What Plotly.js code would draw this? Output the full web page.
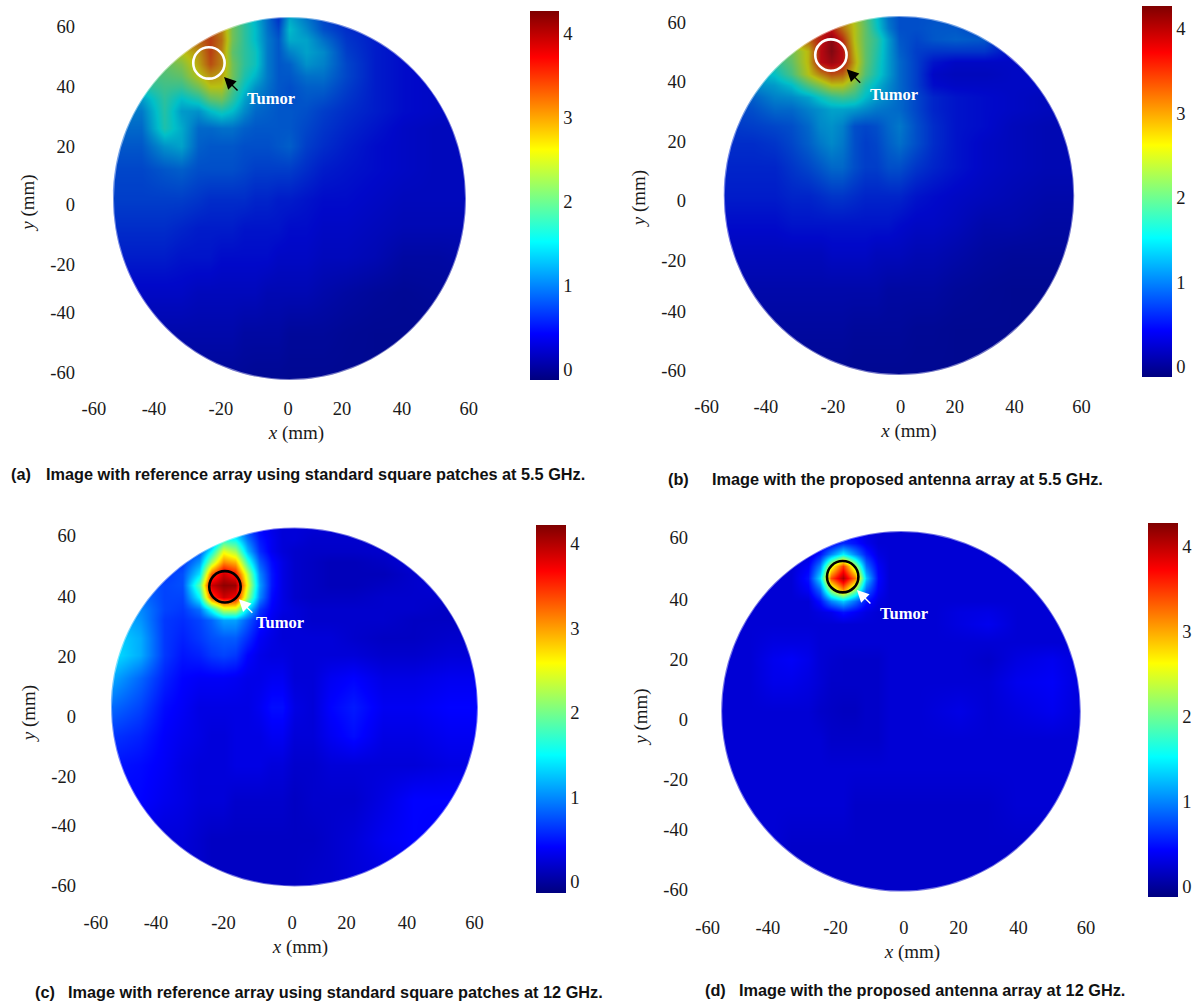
<!DOCTYPE html>
<html><head><meta charset="utf-8">
<script src="https://cdn.plot.ly/plotly-3.0.1.min.js"></script>
<style>html,body{margin:0;padding:0;background:#fff}</style></head>
<body><div id="chart" style="width:1203px;height:1002px"></div>
<script>
const gridX = [-64,-52,-44,-38,-32,-28,-24,-20,-16,-12,-8,-4,0,6,12,20,30,40,52,64];
const gridY = [64,58,54,50,46,42,38,34,30,24,18,10,0,-10,-20,-32,-46,-64];

const zA = [
[3.2,3.2,3.2,3.2,3.2,3.2,3,2.2,1.8,1.4,1,.6,1.3,1,.75,.6,.5,.4,.4,.4],
[3.2,3.2,3.2,3.2,3.2,3.3,3,2.2,1.8,1.5,1.05,.8,1.5,1.2,.85,.65,.55,.45,.4,.4],
[3,3,3,3,3.2,3.4,3.1,2.2,1.8,1.5,1.1,.9,1.4,1.35,1.05,.7,.55,.45,.4,.4],
[2.4,2.4,2.4,2.6,2.9,3.4,3,2.1,1.8,1.6,1.1,.9,1.15,1.35,1.2,.75,.55,.45,.4,.4],
[2,2,2.1,2.3,2.8,3.3,3,2.2,1.8,1.6,1.1,.9,.95,1.25,1.15,.8,.55,.45,.4,.4],
[1.9,1.9,2,2.1,2.6,2.9,2.8,2.2,1.7,1.45,1.1,.9,.9,1.05,1.05,.8,.55,.45,.4,.4],
[1.7,1.7,1.9,1.85,2.2,2.6,2.6,2,1.55,1.25,1.05,.9,.85,.95,.95,.75,.55,.45,.4,.4],
[1.3,1.3,1.8,1.5,1.7,2.1,2.2,1.8,1.35,1.1,1,.9,.85,.9,.85,.7,.55,.45,.4,.4],
[1.1,1.1,1.75,1.3,1.25,1.5,1.65,1.5,1.2,1,.95,.9,.9,.85,.75,.65,.55,.45,.4,.4],
[1,1,1.7,1.4,1,1,1.05,1.05,.95,.9,.9,.9,.9,.8,.7,.6,.5,.4,.35,.35],
[.9,.9,1.25,1.35,.95,.9,.9,.9,.85,.85,.85,.9,.95,.75,.65,.55,.45,.4,.35,.35],
[.8,.8,.9,.95,.85,.85,.85,.85,.8,.75,.75,.75,.75,.65,.55,.5,.45,.4,.35,.35],
[.75,.75,.75,.75,.7,.65,.65,.65,.65,.6,.6,.55,.55,.5,.45,.45,.4,.35,.35,.35],
[.65,.65,.65,.6,.55,.55,.55,.55,.5,.5,.5,.5,.45,.45,.4,.4,.35,.3,.3,.3],
[.55,.55,.55,.5,.5,.5,.45,.45,.45,.45,.45,.4,.4,.4,.35,.35,.3,.2,.2,.25],
[.4,.4,.4,.4,.35,.35,.35,.35,.35,.35,.3,.3,.3,.3,.25,.2,.15,.12,.15,.15],
[.25,.25,.25,.25,.25,.25,.25,.25,.2,.2,.2,.2,.15,.15,.15,.12,.1,.1,.1,.1],
[.12,.12,.12,.12,.12,.12,.12,.12,.12,.1,.1,.1,.1,.1,.1,.1,.1,.1,.1,.1]];

const zB = [
[3.4,3.4,3.4,3.4,3.4,3.5,3.5,2.9,2.5,2,1.5,1,.85,.85,.85,.85,.7,.5,.4,.4],
[3.4,3.4,3.4,3.4,3.4,3.5,3.6,3.1,2.6,2.1,1.6,1.1,.85,.85,.9,.9,.75,.5,.4,.4],
[3,3,3,3,3.2,3.6,4,3.5,2.6,2.1,1.8,1.3,.9,.8,.9,.95,.9,.5,.4,.4],
[2,2,2,2.2,2.7,3.7,4.05,3.7,2.7,2.1,1.75,1.3,.95,.75,.7,.7,.7,.45,.4,.4],
[1.6,1.6,1.8,2.1,2.7,3.7,3.9,3.7,2.8,2.1,1.7,1.3,1,.75,.5,.4,.4,.4,.4,.4],
[1.4,1.4,1.55,1.95,2.6,3,3.3,3.2,2.6,2,1.65,1.3,1,.75,.4,.35,.35,.4,.4,.4],
[1.2,1.2,1.3,1.5,2,2.3,2.6,2.6,2.2,1.7,1.45,1.2,1,.75,.45,.4,.4,.4,.4,.4],
[.85,.95,1.15,1.2,1.35,1.6,1.8,1.9,1.8,1.5,1.3,1.15,1,.8,.6,.5,.45,.4,.35,.35],
[.75,.85,1,1,1.15,1.25,1.35,1.35,1.3,1.2,1.1,1.05,1,.8,.6,.5,.45,.4,.35,.35],
[.7,.75,.8,.85,1,1.2,1.25,1.15,.85,.8,.85,1,1.1,.85,.65,.5,.45,.35,.3,.3],
[.65,.65,.7,.8,.95,1.1,1.2,1.1,.85,.75,.8,.95,1.05,.85,.65,.5,.4,.35,.3,.3],
[.6,.6,.6,.7,.8,.9,1,1,.85,.75,.75,.85,.85,.7,.6,.5,.4,.35,.3,.3],
[.55,.55,.55,.6,.6,.65,.7,.7,.65,.6,.6,.6,.6,.5,.45,.4,.35,.3,.25,.25],
[.45,.45,.45,.5,.5,.5,.5,.5,.5,.5,.5,.5,.45,.4,.4,.35,.25,.25,.2,.2],
[.35,.35,.35,.35,.35,.35,.4,.4,.4,.4,.35,.35,.35,.3,.3,.25,.18,.15,.15,.15],
[.25,.25,.25,.25,.25,.25,.25,.25,.25,.25,.25,.2,.2,.2,.2,.15,.12,.1,.1,.1],
[.18,.18,.18,.18,.18,.18,.18,.18,.15,.15,.15,.15,.15,.12,.12,.1,.1,.1,.1,.1],
[.1,.1,.1,.1,.1,.1,.1,.1,.1,.1,.1,.1,.1,.1,.1,.1,.1,.1,.1,.1]];

const zC = [
[.45,.45,.45,.45,.45,.55,1,1,.6,.4,.3,.25,.25,.25,.25,.25,.25,.25,.25,.25],
[.5,.5,.5,.5,.5,.8,1.6,1.5,.9,.5,.35,.25,.25,.2,.2,.2,.2,.25,.25,.25],
[.55,.55,.55,.6,.75,1.5,2.5,2.2,1.2,.6,.35,.25,.2,.18,.18,.18,.2,.25,.25,.25],
[.65,.65,.6,.65,1.05,2.2,3.1,2.9,1.7,.8,.45,.3,.2,.16,.12,.12,.16,.25,.25,.25],
[.75,.75,.65,.75,1.4,3.3,3.9,3.6,2.3,1,.5,.3,.2,.16,.12,.12,.12,.2,.25,.25],
[.85,.85,.7,.75,1.9,3.9,4.15,4.1,2.5,1.1,.5,.3,.2,.16,.12,.12,.16,.2,.25,.25],
[.95,.9,.7,.7,1.5,3.4,3.9,3.7,2.2,1,.45,.3,.2,.16,.16,.16,.2,.2,.2,.2],
[1.1,1,.7,.65,.9,1.6,2.4,2.4,1.4,.65,.4,.3,.25,.2,.2,.2,.2,.2,.16,.16],
[1.3,1.05,.65,.6,.7,.85,1.1,1.1,.8,.5,.35,.25,.25,.2,.2,.2,.2,.16,.16,.16],
[1.4,1.15,.65,.55,.65,.75,.8,.8,.6,.38,.3,.25,.25,.25,.25,.2,.16,.16,.2,.2],
[1.45,1.15,.65,.5,.55,.65,.7,.65,.42,.32,.28,.28,.25,.25,.25,.25,.2,.2,.25,.25],
[1.2,.85,.55,.42,.38,.38,.38,.36,.32,.32,.36,.36,.25,.25,.36,.42,.3,.3,.35,.35],
[.9,.7,.45,.38,.3,.3,.3,.3,.3,.36,.46,.46,.3,.25,.42,.52,.36,.36,.42,.42],
[.65,.55,.4,.34,.3,.26,.26,.3,.3,.3,.36,.36,.25,.25,.36,.46,.3,.3,.36,.36],
[.5,.45,.38,.3,.26,.26,.26,.3,.3,.3,.26,.26,.2,.2,.25,.25,.25,.25,.3,.3],
[.42,.42,.34,.3,.25,.25,.25,.2,.2,.2,.2,.2,.16,.2,.2,.2,.3,.42,.42,.42],
[.3,.3,.25,.25,.2,.16,.16,.16,.16,.16,.16,.16,.16,.16,.2,.25,.36,.42,.36,.36],
[.25,.25,.25,.2,.2,.16,.16,.16,.16,.16,.16,.16,.16,.2,.2,.25,.25,.3,.3,.3]];

const zD = [
[.25,.25,.25,.25,.25,.25,.25,.3,.3,.25,.25,.25,.25,.25,.25,.25,.25,.25,.25,.25],
[.25,.25,.25,.25,.25,.3,.4,.6,.5,.35,.25,.25,.25,.25,.25,.25,.25,.25,.25,.25],
[.25,.25,.25,.25,.25,.5,1,1.5,1,.55,.3,.25,.25,.25,.25,.25,.25,.25,.25,.25],
[.25,.25,.25,.25,.4,1,2.5,3.5,2.3,.9,.4,.25,.25,.25,.25,.25,.25,.25,.25,.25],
[.25,.25,.25,.25,.5,1.4,3.4,4.1,3.2,1.3,.45,.25,.25,.25,.25,.25,.25,.25,.25,.25],
[.25,.25,.25,.25,.4,.9,2.3,3.2,2.2,.9,.4,.25,.25,.25,.25,.25,.25,.25,.25,.25],
[.25,.25,.25,.25,.25,.5,1,1.3,.9,.5,.3,.25,.25,.25,.25,.25,.25,.25,.25,.25],
[.25,.25,.25,.25,.25,.3,.35,.5,.4,.3,.25,.25,.25,.25,.25,.3,.32,.25,.25,.25],
[.25,.25,.25,.25,.25,.25,.25,.25,.25,.25,.25,.25,.25,.25,.25,.3,.36,.25,.25,.25],
[.25,.25,.3,.3,.3,.25,.25,.25,.25,.25,.25,.25,.25,.25,.25,.25,.25,.25,.25,.25],
[.25,.25,.36,.4,.34,.25,.22,.2,.2,.2,.2,.25,.25,.25,.25,.25,.2,.3,.36,.25],
[.25,.25,.34,.34,.3,.25,.2,.2,.2,.2,.2,.25,.25,.25,.25,.25,.25,.36,.4,.25],
[.25,.25,.25,.25,.25,.2,.18,.16,.16,.2,.2,.25,.25,.25,.28,.32,.25,.3,.36,.25],
[.25,.25,.25,.25,.25,.25,.2,.2,.2,.2,.2,.25,.25,.25,.25,.25,.25,.25,.25,.25],
[.25,.25,.25,.25,.25,.25,.25,.25,.25,.25,.25,.25,.25,.25,.25,.25,.25,.25,.25,.25],
[.25,.25,.25,.25,.25,.25,.25,.25,.2,.2,.2,.2,.2,.2,.2,.2,.2,.25,.25,.25],
[.25,.25,.25,.2,.2,.2,.2,.2,.2,.2,.2,.2,.2,.2,.2,.2,.2,.2,.2,.2],
[.25,.25,.25,.2,.2,.2,.2,.2,.2,.2,.2,.2,.2,.2,.2,.2,.2,.2,.2,.2]];

const tickText = ['-60','-40','-20','0','20','40','60'];
const yTickText = ['60','40','20','0','-20','-40','-60'];
const cbTicks = [0,1,2,3,4];

const xTicksA = [-68.7,-47.6,-24.1,-0.5,18.4,39.5,63];
const yTicksA = [58.9,38.4,17.9,-2.2,-22.7,-39.1,-59.6];
const xTicksB = [-68.1,-47.1,-23.4,0.6,19.7,40.9,64.6];
const yTicksB = [59.9,39.2,18.5,-1.9,-22.6,-39.9,-60.3];
const xTicksC = [-67.1,-46.8,-24,-0.8,17.6,38,60.8];
const yTicksC = [59.1,38.1,17.4,-3.4,-24.1,-41,-61.7];
const xTicksD = [-66.7,-45.9,-22.6,1,19.8,40.5,63.8];
const yTicksD = [59.7,38.5,17.9,-2.9,-23.4,-40.6,-61.2];

const jet = [[0,'#00007F'],[0.125,'#0000FF'],[0.375,'#00FFFF'],[0.625,'#FFFF00'],[0.875,'#FF0000'],[1,'#7F0000']];
const W = 1203, H = 1002, R = 62, serif = 'Liberation Serif', sans = 'Liberation Sans';

const panels = [
 {z:zA,xt:xTicksA,yt:yTicksA,cx:289.5,cy:198.5,rx:176.5,ry:181.5,L:76,Rt:517,T:9,B:395,shade:0.28,
  cb:{l:530,w:29,t:11,b:380},zr:[-0.12,4.27],ring:'#fff',c:[-28.3,46.3],arrow:'#000',tip:[-23,41.5],txt:[-6.5,34]},
 {z:zB,xt:xTicksB,yt:yTicksB,cx:899,cy:195.5,rx:175.2,ry:179.5,L:687,Rt:1131,T:2,B:393,shade:0.28,
  cb:{l:1142,w:30,t:6,b:377},zr:[-0.12,4.27],ring:'#fff',c:[-24.1,48.5],arrow:'#000',tip:[-18.5,43.6],txt:[-1.8,35]},
 {z:zC,xt:xTicksC,yt:yTicksC,cx:294.5,cy:707,rx:183.5,ry:179.5,L:77,Rt:524,T:516,B:909,shade:0,
  cb:{l:536,w:30,t:525,b:893},zr:[-0.13,4.22],ring:'#000',c:[-23.5,41.5],arrow:'#fff',tip:[-18.8,37.2],txt:[-4.9,29.3]},
 {z:zD,xt:xTicksD,yt:yTicksD,cx:901,cy:711.3,rx:179.8,ry:180.3,L:689,Rt:1136,T:518,B:914,shade:0,
  cb:{l:1148,w:30,t:523,b:897},zr:[-0.12,4.28],ring:'#000',c:[-20.1,46.3],arrow:'#fff',tip:[-15.2,41.7],txt:[1,33.8]}
];

const captions = [
 ['(a)',10,474],['Image with reference array using standard square patches at 5.5 GHz.',45,474],
 ['(b)',667,479],['Image with the proposed antenna array at 5.5 GHz.',711,479],
 ['(c)',34,992],['Image with reference array using standard square patches at 12 GHz.',67,992],
 ['(d)',704,990],['Image with the proposed antenna array at 12 GHz.',738,990]
];

const k = 0.5523 * R;
const maskPath = `M-200,-200 H200 V200 H-200 Z M${-R},0 C${-R},${k} ${-k},${R} 0,${R} C${k},${R} ${R},${k} ${R},0 C${R},${-k} ${k},${-R} 0,${-R} C${-k},${-R} ${-R},${-k} ${-R},0 Z`;

const traces = [], shapes = [], annotations = [];
const layout = {width:W,height:H,margin:{l:0,r:0,t:0,b:0},paper_bgcolor:'#fff',plot_bgcolor:'#fff',showlegend:false,font:{family:serif,color:'#1a1a1a'}};

panels.forEach((p,i)=>{
  const s = i===0?'':String(i+1), xn='x'+s, yn='y'+s;
  const sx = p.rx/R, sy = p.ry/R;
  traces.push({type:'heatmap',x:gridX,y:gridY,z:p.z,xaxis:xn,yaxis:yn,colorscale:jet,zmin:p.zr[0],zmax:p.zr[1],zsmooth:'best',hoverinfo:'skip',
    colorbar:{x:p.cb.l/W,xanchor:'left',xpad:0,ypad:0,y:1-p.cb.b/H,yanchor:'bottom',lenmode:'pixels',len:p.cb.b-p.cb.t,thicknessmode:'pixels',thickness:p.cb.w,
      outlinewidth:0,ticks:'',tickmode:'array',tickvals:cbTicks,ticktext:cbTicks.map(String),tickfont:{family:serif,size:18.5,color:'#1a1a1a'}}});
  layout['xaxis'+s] = {domain:[p.L/W,p.Rt/W],anchor:yn,range:[(p.L-p.cx)/sx,(p.Rt-p.cx)/sx],showgrid:false,zeroline:false,showline:false,ticks:'',
    tickmode:'array',tickvals:p.xt,ticktext:tickText,tickfont:{family:serif,size:18.5,color:'#1a1a1a'},
    title:{text:'<i>x</i> (mm)',font:{family:serif,size:19,color:'#1a1a1a'},standoff:8}};
  layout['yaxis'+s] = {domain:[1-p.B/H,1-p.T/H],anchor:xn,range:[(p.cy-p.B)/sy,(p.cy-p.T)/sy],showgrid:false,zeroline:false,showline:false,ticks:'',
    tickmode:'array',tickvals:p.yt,ticktext:yTickText,tickfont:{family:serif,size:18.5,color:'#1a1a1a'},
    title:{text:'<i>y</i> (mm)',font:{family:serif,size:19,color:'#1a1a1a'},standoff:10}};
  shapes.push({type:'path',xref:xn,yref:yn,path:maskPath,fillcolor:'#fff',fillrule:'evenodd',line:{width:0},layer:'above'});
  shapes.push({type:'circle',xref:xn,yref:yn,x0:-R,x1:R,y0:-R,y1:R,fillcolor:`rgba(0,30,60,${p.shade})`,line:{color:'rgba(255,255,255,0.45)',width:2},layer:'above'});
  shapes.push({type:'circle',xref:xn,yref:yn,x0:p.c[0]-15.7/sx,x1:p.c[0]+15.7/sx,y0:p.c[1]-15.7/sy,y1:p.c[1]+15.7/sy,fillcolor:'rgba(0,0,0,0)',line:{color:p.ring,width:2.6},layer:'above'});
  annotations.push({xref:xn,yref:yn,x:p.tip[0],y:p.tip[1],axref:'pixel',ayref:'pixel',ax:15,ay:15,text:'',showarrow:true,arrowhead:2,arrowsize:1.7,arrowwidth:1.4,arrowcolor:p.arrow,standoff:0});
  annotations.push({xref:xn,yref:yn,x:p.txt[0],y:p.txt[1],text:'<b>Tumor</b>',showarrow:false,font:{family:serif,size:16.5,color:'#fff'}});
});
captions.forEach(c=>annotations.push({xref:'paper',yref:'paper',x:c[1]/W,y:1-c[2]/H,xanchor:'left',yanchor:'middle',text:'<b>'+c[0]+'</b>',showarrow:false,xshift:-1,font:{family:sans,size:16.3,color:'#111'}}));
layout.shapes = shapes; layout.annotations = annotations;
Plotly.newPlot('chart',traces,layout,{displayModeBar:false,staticPlot:true});
</script></body></html>
